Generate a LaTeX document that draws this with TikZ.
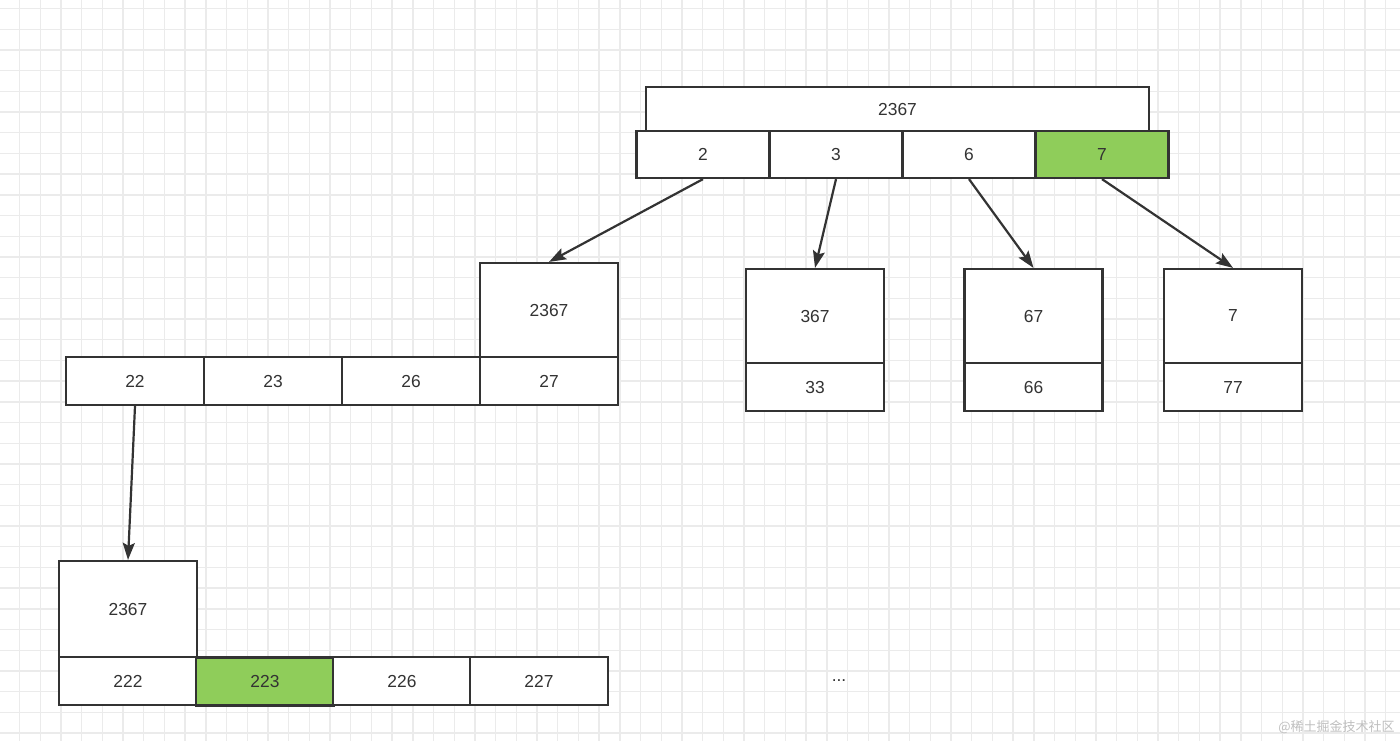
\documentclass[tikz,border=0pt]{standalone}
\usepackage{fontspec}
\setsansfont{Liberation Sans}
\newfontfamily\cjkfont{Noto Sans CJK SC}
\usetikzlibrary{arrows.meta}

\definecolor{linec}{HTML}{333333}
\definecolor{hitgreen}{HTML}{8FCD5A}
\definecolor{gridc}{HTML}{EBEBEB}

\begin{document}
\begin{tikzpicture}[
    x=0.5pt, y=-0.5pt,
    >={Stealth[length=8.5pt, width=6pt, inset=1.5pt]},
    box/.style={rectangle, draw=linec, line width=1.1pt, fill=white, inner sep=0pt, font=\sffamily\fontsize{8.7}{10}\selectfont, text=linec},
    headbox/.style={box, minimum width=69pt, minimum height=47pt},
    keybox/.style={box, minimum width=69pt, minimum height=24pt},
    rootkey/.style={box, minimum width=66.5pt, minimum height=23.5pt},
    hit/.style={fill=hitgreen},
    link/.style={->, draw=linec, line width=1.1pt}
]
    % background and grid
    \fill[white] (0,0) rectangle (1400,741);
    \useasboundingbox (0,0) rectangle (1400,741);
    \foreach \i in {0,...,67} {
        \draw[gridc, line width=0.7pt] (19.5+20.7*\i,0) -- (19.5+20.7*\i,741);
    }
    \foreach \j in {0,...,35} {
        \draw[gridc, line width=0.7pt] (0,8.5+20.7*\j) -- (1400,8.5+20.7*\j);
    }

    % root
    \node[box, minimum width=251.5pt, minimum height=22pt] at (897.5, 109) (roothead) {2367};
    \node[rootkey] at (703, 154.5) (k2) {2};
    \node[rootkey] at (836, 154.5) (k3) {3};
    \node[rootkey] at (969, 154.5) (k6) {6};
    \node[rootkey, hit] at (1102, 154.5) (k7) {7};

    % second level, left
    \node[headbox] at (549, 310) (midhead) {2367};
    \node[keybox] at (135, 381) (k22) {22};
    \node[keybox] at (273, 381) (k23) {23};
    \node[keybox] at (411, 381) (k26) {26};
    \node[keybox] at (549, 381) (k27) {27};

    % second level, right
    \node[headbox] at (815, 316) (head367) {367};
    \node[keybox] at (815, 387) (k33) {33};
    \node[headbox] at (1033.5, 316) (head67) {67};
    \node[keybox] at (1033.5, 387) (k66) {66};
    \node[headbox] at (1233, 316) (head7) {7};
    \node[keybox] at (1233, 387) (k77) {77};

    % third level
    \node[headbox, minimum height=48pt] at (128, 609) (lowhead) {2367};
    \node[keybox] at (128, 681) (k222) {222};
    \node[keybox, hit] at (265, 681.5) (k223) {223};
    \node[keybox] at (402, 681) (k226) {226};
    \node[keybox] at (539, 681) (k227) {227};

    \node[font=\sffamily\fontsize{8.7}{10}\selectfont, text=linec] at (839, 681) (more) {...};

    % links
    \draw[link] (k2.south) -- (midhead.north);
    \draw[link] (k3.south) -- (head367.north);
    \draw[link] (k6.south) -- (head67.north);
    \draw[link] (k7.south) -- (head7.north);
    \draw[link] (k22.south) -- (lowhead.north);

    \node[anchor=east, font=\cjkfont\fontsize{6.5}{8}\selectfont, text=black!25, inner sep=0pt] at (1395, 727) (mark) {@稀土掘金技术社区};
\end{tikzpicture}
\end{document}
